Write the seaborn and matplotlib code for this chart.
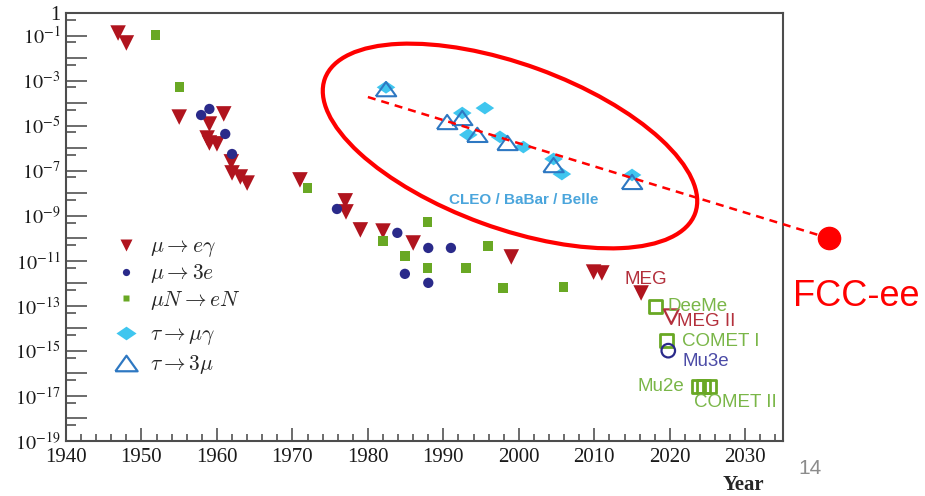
import numpy as np
import pandas as pd
import matplotlib
matplotlib.use("Agg")
import matplotlib.pyplot as plt
import seaborn as sns
from matplotlib.patches import Ellipse
from matplotlib.lines import Line2D
from matplotlib.ticker import FixedLocator, FuncFormatter

sns.set_theme(style="ticks")
plt.rcParams["font.family"] = ["Liberation Serif", "DejaVu Serif"]
plt.rcParams["mathtext.fontset"] = "stix"

# ---------------- data: year and log10(upper limit on branching ratio) ----------------
mueg_year = [1946.9, 1948.0, 1955.0, 1960.9, 1959.0, 1958.7, 1959.0, 1960.0,
             1961.9, 1962.0, 1963.1, 1964.0, 1971.0, 1977.0, 1977.1, 1979.0,
             1982.0, 1986.0, 1999.0, 2009.9, 2011.0, 2016.2]
mueg_log10 = [-0.89, -1.33, -4.62, -4.48, -4.93, -5.55, -5.77, -5.81,
              -6.61, -7.10, -7.28, -7.55, -7.41, -8.34, -8.83, -9.63,
              -9.68, -10.21, -10.83, -11.50, -11.54, -12.43]

mu3e_year = [1957.9, 1959.0, 1961.1, 1962.0, 1975.9, 1983.9, 1988.0, 1991.0, 1984.9, 1988.0]
mu3e_log10 = [-4.53, -4.26, -5.37, -6.26, -8.70, -9.76, -10.43, -10.43, -11.58, -11.98]

muconv_year = [1951.9, 1955.0, 1972.0, 1982.0, 1984.9, 1987.9, 1987.9, 1993.0, 1995.9, 1997.9, 2005.9]
muconv_log10 = [-0.98, -3.28, -7.77, -10.12, -10.79, -9.28, -11.32, -11.32, -10.34, -12.21, -12.16]

taumug_year = [1982.4, 1992.5, 1995.5, 1993.3, 1997.5, 2000.6, 2004.6, 2005.7, 2015.0]
taumug_log10 = [-3.30, -4.44, -4.22, -5.41, -5.50, -5.95, -6.48, -7.15, -7.19]

tau3mu_year = [1982.4, 1990.5, 1992.5, 1994.5, 1998.5, 2004.6, 2015.0]
tau3mu_log10 = [-3.38, -4.84, -4.66, -5.41, -5.77, -6.75, -7.50]

# future sensitivities
fut_conv_year = [2018.1, 2019.6, 2023.8, 2024.5, 2025.3]      # DeeMe, COMET I, Mu2e, COMET II
fut_conv_log10 = [-13.02, -14.54, -16.59, -16.59, -16.59]
fut_meg2_year = [2020.2]
fut_meg2_log10 = [-13.48]
fut_mu3e_year = [2019.8]
fut_mu3e_log10 = [-14.99]

# tau trend extrapolated to FCC-ee
trend_year = [1980.0, 2041.1]
trend_log10 = [-3.73, -10.0]
fcc_year = [2041.1]
fcc_log10 = [-10.0]

exp_labels = ["MEG", "DeeMe", "MEG II", "COMET I", "Mu3e", "Mu2e", "COMET II"]
legend_labels = [r"$\mu\rightarrow e\gamma$", r"$\mu\rightarrow 3e$", r"$\mu N\rightarrow eN$",
                 r"$\tau\rightarrow\mu\gamma$", r"$\tau\rightarrow 3\mu$"]
x_ticks = list(range(1940, 2031, 10))

c_red = "#b0141e"
c_navy = "#2a2a8a"
c_green = "#69a824"
c_cyan = "#3fc6ef"
c_tblue = "#2e78c2"
c_lab_red = "#b3303c"
c_lab_green = "#7ab648"
c_lab_blue = "#4b4ba6"

def v(a):
    return 10.0 ** np.asarray(a)

fig = plt.figure(figsize=(9.25, 4.96), dpi=100)
ax = fig.add_axes([66 / 925, 55 / 496, 717 / 925, 428 / 496])
ax.set_yscale("log")

wide_diamond = [(-1, 0), (0, 0.68), (1, 0), (0, -0.68), (-1, 0)]
wide_tri_up = [(-1, -0.7), (1, -0.7), (0, 0.7), (-1, -0.7)]

sns.scatterplot(x=mueg_year, y=v(mueg_log10), ax=ax, marker="v", s=125,
                color=c_red, edgecolor="none", legend=False, zorder=3)
sns.scatterplot(x=mu3e_year, y=v(mu3e_log10), ax=ax, marker="o", s=55,
                color=c_navy, edgecolor="none", legend=False, zorder=3)
sns.scatterplot(x=muconv_year, y=v(muconv_log10), ax=ax, marker="s", s=45,
                color=c_green, edgecolor="none", legend=False, zorder=3)
sns.scatterplot(x=taumug_year, y=v(taumug_log10), ax=ax, marker=wide_diamond, s=180,
                color=c_cyan, edgecolor="none", legend=False, zorder=3)
sns.scatterplot(x=tau3mu_year, y=v(tau3mu_log10), ax=ax, marker=wide_tri_up, s=215,
                facecolor="none", edgecolor=c_tblue, linewidth=1.5, legend=False, zorder=4)

# future experiments (open markers)
sns.scatterplot(x=fut_conv_year, y=v(fut_conv_log10), ax=ax, marker="s", s=85,
                facecolor="none", edgecolor=c_green, linewidth=2.0, legend=False, zorder=4)
sns.scatterplot(x=fut_meg2_year, y=v(fut_meg2_log10), ax=ax, marker="v", s=110,
                facecolor="none", edgecolor=c_lab_red, linewidth=1.6, legend=False, zorder=4)
sns.scatterplot(x=fut_mu3e_year, y=v(fut_mu3e_log10), ax=ax, marker="o", s=95,
                facecolor="none", edgecolor=c_navy, linewidth=1.6, legend=False, zorder=4)

# trend line and FCC-ee point
ax.plot(trend_year, v(trend_log10), color="red", lw=1.8, dashes=(3.2, 2.4),
        clip_on=False, zorder=5)
ax.plot(fcc_year, v(fcc_log10), marker="o", ms=16, color="red", ls="none",
        clip_on=False, zorder=6)

# axes
ax.set_xlim(1940, 2035)
ax.set_ylim(1e-19, 1)
ax.xaxis.set_major_locator(FixedLocator(x_ticks))
ax.xaxis.set_minor_locator(FixedLocator(np.arange(1940, 2036, 2)))
ax.yaxis.set_major_locator(FixedLocator(10.0 ** np.arange(-19, 1)))
ax.yaxis.set_minor_locator(FixedLocator(5 * 10.0 ** np.arange(-19, 0)))

def yfmt(val, pos):
    k = int(round(np.log10(val)))
    if k == 0:
        return "1"
    if k % 2:
        return r"$10^{%d}$" % k
    return ""

ax.yaxis.set_major_formatter(FuncFormatter(yfmt))
ax.xaxis.set_major_formatter(FuncFormatter(lambda x, p: "%d" % x))
tick_col = "#444444"
ax.tick_params(axis="y", which="major", direction="in", length=15, width=1.1,
               color=tick_col, labelsize=14.5, pad=4, labelcolor="#1a1a1a")
ax.tick_params(axis="y", which="minor", direction="in", length=7, width=1.1, color=tick_col)
ax.tick_params(axis="x", which="major", direction="in", length=9.5, width=1.1,
               color=tick_col, labelsize=15, pad=5, labelcolor="#1a1a1a")
ax.tick_params(axis="x", which="minor", direction="in", length=5, width=1.1, color=tick_col)
for sp in ax.spines.values():
    sp.set_color("#4d4d4d")
    sp.set_linewidth(1.5)
ax.set_xlabel("")
ax.set_ylabel("")

# experiment labels
sans = ["Liberation Sans", "DejaVu Sans"]
lab_specs = [
    ("MEG", 2014.0, -11.85, c_lab_red),
    ("DeeMe", 2019.7, -13.04, c_lab_green),
    ("MEG II", 2021.0, -13.70, c_lab_red),
    ("COMET I", 2021.65, -14.59, c_lab_green),
    ("Mu3e", 2021.65, -15.48, c_lab_blue),
    ("Mu2e", 2015.7, -16.59, c_lab_green),
    ("COMET II", 2023.2, -17.31, c_lab_green),
]
for name, xx, ly, col in lab_specs:
    ax.text(xx, 10.0 ** ly, name, color=col, fontsize=13.5, family=sans,
            ha="left", va="center", zorder=5)
ax.text(2000.6, 10.0 ** -8.30, "CLEO / BaBar / Belle", color="#4aa5dc", fontsize=11,
        fontweight="bold", family=sans, ha="center", va="center", zorder=5)

# legends
h1 = [Line2D([], [], marker="v", ls="none", color=c_red, ms=8.5, mec="none"),
      Line2D([], [], marker="o", ls="none", color=c_navy, ms=5.2, mec="none"),
      Line2D([], [], marker="s", ls="none", color=c_green, ms=5.0, mec="none")]
h2 = [Line2D([], [], marker=wide_diamond, ls="none", color=c_cyan, ms=14.5, mec="none"),
      Line2D([], [], marker=wide_tri_up, ls="none", mec=c_tblue, mfc="none", mew=1.6, ms=16)]
prop = {"size": 15.5, "math_fontfamily": "cm"}
l1 = ax.legend(h1, legend_labels[:3], loc="upper left", bbox_to_anchor=(115 / 925, 1 - 237 / 496),
               bbox_transform=fig.transFigure, frameon=False, prop=prop, handlelength=1.0,
               handletextpad=0.62, labelspacing=0.15, borderpad=0, borderaxespad=0)
ax.add_artist(l1)
l2 = ax.legend(h2, legend_labels[3:], loc="upper left", bbox_to_anchor=(115 / 925, 1 - 325 / 496),
               bbox_transform=fig.transFigure, frameon=False, prop=prop, handlelength=1.0,
               handletextpad=0.62, labelspacing=0.28, borderpad=0, borderaxespad=0)

# highlight ellipse (figure inches)
fig.add_artist(Ellipse((5.10, 3.50), 3.94, 1.64, angle=-20, transform=fig.dpi_scale_trans,
                       fill=False, ec="red", lw=3.0, zorder=6))

fig.text(793 / 925, 1 - 297 / 496, "FCC-ee", color="red", fontsize=26, family=sans,
         ha="left", va="center")
fig.text(743 / 925, 1 - 485 / 496, "Year", fontsize=15, fontweight="bold",
         ha="center", va="center")
fig.text(810 / 925, 1 - 469 / 496, "14", fontsize=15, color="#8c8c8c", family=sans,
         ha="center", va="center")

fig.savefig("out.png", dpi=100)
